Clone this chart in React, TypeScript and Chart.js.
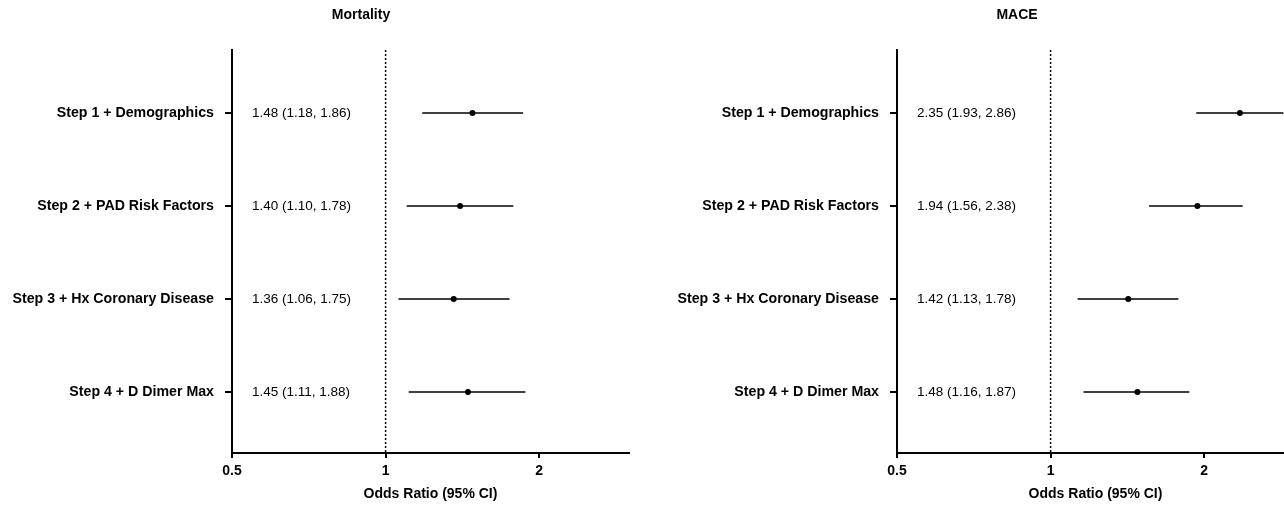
import React, { useEffect, useRef } from 'react';
import { Chart, registerables } from 'chart.js';

Chart.register(...registerables);

// ---- data ----
const rowLabels = [
  'Step 1 + Demographics',
  'Step 2 + PAD Risk Factors',
  'Step 3 + Hx Coronary Disease',
  'Step 4 + D Dimer Max',
];
const rowPositions = [1, 2, 3, 4];
const xTickValues = [0.5, 1, 2];
const xTickLabels = ['0.5', '1', '2'];

const mortalityOR = [1.48, 1.4, 1.36, 1.45];
const mortalityLow = [1.18, 1.1, 1.06, 1.11];
const mortalityHigh = [1.86, 1.78, 1.75, 1.88];

const maceOR = [2.35, 1.94, 1.42, 1.48];
const maceLow = [1.93, 1.56, 1.13, 1.16];
const maceHigh = [2.86, 2.38, 1.78, 1.87];

const X_MIN = 0.5;
const X_MAX = 3;
const Y_MIN = 0.323;
const Y_MAX = 4.656;
const FONT = '"Liberation Sans", Arial, Helvetica, sans-serif';

Chart.defaults.font.family = FONT;
Chart.defaults.color = '#000';

type PanelProps = {
  title: string;
  or: number[];
  lo: number[];
  hi: number[];
  left: number;
  width: number;
  yWidth: number;
  rightPad: number;
  titleX: number;
};

function Panel({ title, or, lo, hi, left, width, yWidth, rightPad, titleX }: PanelProps) {
  const ref = useRef<HTMLCanvasElement | null>(null);

  useEffect(() => {
    if (!ref.current) return;
    const ciSets = rowPositions.map((r, i) => ({
      data: [
        { x: lo[i], y: r },
        { x: hi[i], y: r },
      ],
      showLine: true,
      borderColor: '#000',
      borderWidth: 1.5,
      pointRadius: 0,
      fill: false,
    }));
    const refLine = {
      data: [
        { x: 1, y: Y_MIN },
        { x: 1, y: Y_MAX },
      ],
      showLine: true,
      borderColor: '#000',
      borderWidth: 1.5,
      borderDash: [2, 2],
      pointRadius: 0,
      fill: false,
    };
    const points = {
      data: rowPositions.map((r, i) => ({ x: or[i], y: r })),
      pointRadius: 3,
      pointBackgroundColor: '#000',
      pointBorderWidth: 0,
      borderColor: '#000',
      showLine: false,
    };

    const annot = {
      id: 'annot',
      afterDraw(chart: any) {
        const { ctx, chartArea, scales } = chart;
        ctx.save();
        ctx.fillStyle = '#000';
        ctx.font = `13.5px ${FONT}`;
        ctx.textAlign = 'left';
        ctx.textBaseline = 'middle';
        rowPositions.forEach((r, i) => {
          const txt = `${or[i].toFixed(2)} (${lo[i].toFixed(2)}, ${hi[i].toFixed(2)})`;
          ctx.fillText(txt, chartArea.left + 20, scales.y.getPixelForValue(r));
        });
        ctx.font = `bold 14px ${FONT}`;
        ctx.textAlign = 'center';
        ctx.fillText(title, titleX, 15);
        ctx.restore();
      },
    };

    const chart = new Chart(ref.current, {
      type: 'scatter',
      data: { datasets: [...ciSets, refLine, points] as any },
      options: {
        animation: false,
        responsive: false,
        maintainAspectRatio: false,
        layout: { padding: { top: 50, right: rightPad, left: 0, bottom: 0 } },
        plugins: {
          legend: { display: false },
          tooltip: { enabled: false },
          title: { display: false },
        },
        scales: {
          x: {
            type: 'logarithmic',
            min: X_MIN,
            max: X_MAX,
            afterBuildTicks: (s: any) => {
              s.ticks = xTickValues.map((v) => ({ value: v }));
            },
            afterFit: (s: any) => {
              s.height = 53;
            },
            ticks: {
              callback: (v: any) => {
                const idx = xTickValues.indexOf(Number(v));
                return idx >= 0 ? xTickLabels[idx] : '';
              },
              font: { size: 14, weight: 'bold' },
              color: '#000',
              padding: 5,
              maxRotation: 0,
              autoSkip: false,
            },
            grid: {
              drawOnChartArea: false,
              drawTicks: true,
              tickLength: 5,
              lineWidth: 2,
              color: '#000',
            },
            border: { display: true, width: 2, color: '#000' },
            title: {
              display: true,
              text: 'Odds Ratio (95% CI)',
              font: { size: 14, weight: 'bold' },
              color: '#000',
              padding: { top: 0, bottom: 3 },
            },
          } as any,
          y: {
            type: 'linear',
            reverse: true,
            min: Y_MIN,
            max: Y_MAX,
            afterBuildTicks: (s: any) => {
              s.ticks = rowPositions.map((v) => ({ value: v }));
            },
            afterFit: (s: any) => {
              s.width = yWidth;
            },
            ticks: {
              callback: (v: any) => {
                const idx = rowPositions.indexOf(Number(v));
                return idx >= 0 ? rowLabels[idx] : '';
              },
              font: { size: 14.2, weight: 'bold' },
              color: '#000',
              padding: 11,
              autoSkip: false,
            },
            grid: {
              drawOnChartArea: false,
              drawTicks: true,
              tickLength: 7,
              lineWidth: 2,
              color: '#000',
            },
            border: { display: true, width: 2, color: '#000' },
          } as any,
        },
      },
      plugins: [annot],
    });
    return () => chart.destroy();
  }, []);

  return (
    <canvas
      ref={ref}
      width={width}
      height={506}
      style={{ position: 'absolute', left, top: 0, width, height: 506 }}
    />
  );
}

export default function App() {
  return (
    <div
      style={{
        position: 'absolute',
        left: 0,
        top: 0,
        width: 1284,
        height: 506,
        overflow: 'hidden',
        background: '#fff',
      }}
    >
      <Panel
        title="Mortality"
        or={mortalityOR}
        lo={mortalityLow}
        hi={mortalityHigh}
        left={0}
        width={642}
        yWidth={232}
        rightPad={13}
        titleX={361}
      />
      <Panel
        title="MACE"
        or={maceOR}
        lo={maceLow}
        hi={maceHigh}
        left={642}
        width={660}
        yWidth={255}
        rightPad={8}
        titleX={1017 - 642}
      />
    </div>
  );
}
